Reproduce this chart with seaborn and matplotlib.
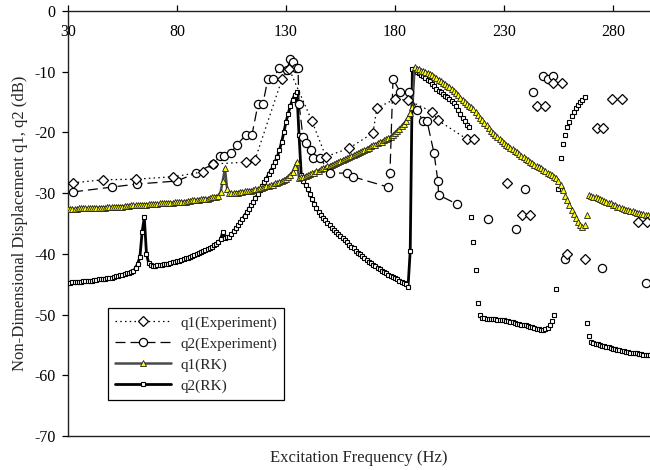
import numpy as np
import pandas as pd
import matplotlib
matplotlib.use("Agg")
import matplotlib.pyplot as plt
import seaborn as sns
from matplotlib.lines import Line2D

# ---------------- data ----------------
q1_exp_hz = [32.3, 46.1, 61.2, 78.2, 91.9, 96.5, 111.7, 115.8, 128.2, 131.4,
             141.9, 148.3, 158.9, 169.9, 171.7, 180.0, 186.0, 197.0, 199.7, 213.0,
             216.2, 231.4, 238.3, 241.9, 245.1, 248.8, 252.5, 256.6, 258.9, 267.2,
             272.7, 275.4, 279.5, 284.1, 291.5, 295.6]
q1_exp_db = [-28.3, -27.8, -27.7, -27.3, -26.5, -25.2, -24.9, -24.5, -11.2, -9.5,
             -18.1, -24.0, -22.6, -20.1, -16.0, -14.5, -14.7, -16.6, -18.0, -21.1,
             -21.1, -28.3, -33.6, -33.6, -15.7, -15.7, -11.9, -11.9, -40.0, -40.9,
             -19.3, -19.3, -14.5, -14.5, -34.8, -34.8]

q2_exp_hz = [32.3, 50.2, 61.7, 80.0, 88.7, 96.5, 99.7, 101.6, 104.8, 107.5,
             111.7, 114.4, 117.2, 119.4, 121.7, 124.0, 126.8, 130.5, 131.8, 133.2,
             134.6, 135.5, 136.0, 137.8, 139.2, 141.5, 142.4, 145.6, 150.2, 158.0,
             160.7, 176.8, 177.7, 179.1, 182.3, 186.4, 190.1, 192.8, 194.7, 197.9,
             199.7, 200.0, 208.4, 222.7, 235.5, 239.6, 243.3, 247.9, 250.2, 252.5,
             258.0, 275.0, 295.1]
q2_exp_db = [-29.8, -29.0, -28.5, -28.0, -26.7, -25.2, -23.9, -23.9, -23.4, -22.0,
             -20.4, -20.4, -15.3, -15.3, -11.2, -11.2, -9.4, -9.7, -7.9, -8.4,
             -9.4, -9.4, -15.3, -20.8, -21.7, -22.9, -24.2, -24.2, -26.7, -26.7,
             -27.3, -29.0, -26.7, -11.2, -13.3, -13.3, -16.3, -18.1, -18.1, -23.4,
             -28.0, -30.3, -31.8, -34.3, -35.9, -29.3, -13.3, -10.7, -11.2, -10.7,
             -40.9, -42.3, -44.8]

rk_hz = list(range(30, 298))
q1_rk_db = [
    -32.6, -32.6, -32.6, -32.6, -32.6, -32.5, -32.5, -32.5, -32.5, -32.5,
    -32.5, -32.5, -32.4, -32.4, -32.4, -32.4, -32.4, -32.4, -32.3, -32.3,
    -32.3, -32.3, -32.3, -32.2, -32.2, -32.2, -32.1, -32.1, -32.1, -32.0,
    -32.0, -32.0, -32.0, -31.9, -31.9, -31.9, -31.9, -31.8, -31.8, -31.8,
    -31.8, -31.8, -31.7, -31.7, -31.7, -31.6, -31.6, -31.6, -31.6, -31.5,
    -31.5, -31.5, -31.4, -31.4, -31.4, -31.3, -31.3, -31.2, -31.2, -31.1,
    -31.1, -31.0, -31.0, -30.9, -30.9, -30.8, -30.7, -30.7, -30.6, -30.5,
    -29.8, -28.0, -25.9, -29.3, -30.0, -30.0, -30.0, -29.9, -29.9, -29.8,
    -29.8, -29.7, -29.7, -29.6, -29.6, -29.5, -29.4, -29.3, -29.2, -29.1,
    -29.0, -28.9, -28.8, -28.7, -28.6, -28.4, -28.3, -28.2, -28.0, -27.8,
    -27.6, -27.3, -27.0, -26.5, -25.7, -24.9, -27.5, -27.4, -27.3, -27.1,
    -27.0, -26.9, -26.7, -26.6, -26.4, -26.3, -26.1, -25.9, -25.8, -25.6,
    -25.5, -25.3, -25.2, -25.0, -24.8, -24.7, -24.5, -24.4, -24.2, -24.1,
    -23.9, -23.7, -23.6, -23.4, -23.2, -23.0, -22.9, -22.7, -22.5, -22.3,
    -22.1, -22.0, -21.8, -21.6, -21.5, -21.3, -21.1, -20.9, -20.7, -20.4,
    -20.1, -19.8, -19.4, -19.0, -18.6, -18.1, -17.5, -16.8, -15.8, -9.3,
    -9.5, -9.6, -9.8, -9.9, -10.1, -10.2, -10.3, -10.5, -10.8, -11.0,
    -11.3, -11.5, -11.8, -12.0, -12.3, -12.5, -12.8, -13.2, -13.5, -13.9,
    -14.3, -14.6, -15.0, -15.3, -15.6, -15.8, -16.2, -16.6, -17.1, -17.6,
    -18.0, -18.4, -18.8, -19.3, -19.7, -20.1, -20.4, -20.7, -21.1, -21.4,
    -21.8, -22.1, -22.3, -22.6, -22.8, -23.1, -23.3, -23.5, -23.8, -24.0,
    -24.3, -24.5, -24.8, -25.0, -25.3, -25.5, -25.7, -25.9, -26.2, -26.4,
    -26.6, -26.8, -27.0, -27.3, -27.5, -28.0, -28.6, -29.5, -30.5, -31.2,
    -32.0, -32.8, -33.5, -34.1, -34.7, -35.2, -35.6, -35.3, -33.6, -30.3,
    -30.4, -30.6, -30.7, -30.8, -31.0, -31.1, -31.3, -31.4, -31.6, -31.7,
    -31.9, -32.0, -32.2, -32.3, -32.5, -32.6, -32.7, -32.8, -32.9, -33.0,
    -33.1, -33.2, -33.3, -33.4, -33.5, -33.6, -33.6, -33.7]
q2_rk_db = [
    -44.8, -44.8, -44.7, -44.7, -44.7, -44.6, -44.6, -44.5, -44.5, -44.5,
    -44.4, -44.4, -44.3, -44.3, -44.2, -44.2, -44.1, -44.1, -44.0, -44.0,
    -43.9, -43.8, -43.7, -43.6, -43.5, -43.4, -43.3, -43.2, -43.1, -43.0,
    -42.9, -42.3, -41.6, -40.5, -36.4, -34.0, -40.0, -41.5, -41.8, -42.0,
    -42.0, -41.9, -41.9, -41.8, -41.7, -41.7, -41.6, -41.5, -41.4, -41.3,
    -41.2, -41.1, -41.0, -40.9, -40.7, -40.6, -40.5, -40.3, -40.2, -40.0,
    -39.9, -39.7, -39.5, -39.4, -39.2, -39.0, -38.8, -38.6, -38.4, -38.1,
    -37.6, -36.4, -37.4, -37.3, -37.2, -36.8, -36.3, -35.8, -35.3, -34.7,
    -34.2, -33.7, -33.1, -32.6, -32.0, -31.4, -30.8, -30.2, -29.5, -28.9,
    -28.2, -27.6, -26.9, -26.3, -25.6, -24.8, -24.0, -22.9, -21.6, -20.0,
    -18.3, -16.9, -15.6, -14.6, -13.8, -13.3, -20.5, -27.0, -28.0, -28.7,
    -29.3, -30.2, -31.0, -31.8, -32.5, -33.1, -33.6, -34.1, -34.5, -34.9,
    -35.3, -35.7, -36.0, -36.4, -36.7, -37.0, -37.4, -37.8, -38.1, -38.5,
    -38.8, -39.1, -39.5, -39.8, -40.1, -40.4, -40.7, -41.0, -41.3, -41.5,
    -41.8, -42.0, -42.3, -42.5, -42.8, -43.0, -43.2, -43.4, -43.6, -43.8,
    -44.0, -44.2, -44.4, -44.6, -44.8, -45.0, -45.4, -39.5, -9.6, -9.8,
    -10.0, -10.2, -10.5, -10.7, -11.0, -11.3, -11.6, -12.0, -12.4, -12.8,
    -13.2, -13.4, -13.7, -14.0, -14.2, -14.5, -14.8, -15.2, -15.7, -16.3,
    -17.0, -17.6, -18.2, -18.7, -19.1, -33.9, -38.0, -42.7, -48.1, -50.0,
    -50.6, -50.6, -50.7, -50.7, -50.8, -50.8, -50.8, -50.9, -50.9, -50.9,
    -50.9, -51.0, -51.1, -51.2, -51.3, -51.4, -51.5, -51.6, -51.7, -51.8,
    -51.8, -51.9, -52.0, -52.1, -52.2, -52.3, -52.4, -52.5, -52.5, -52.4,
    -52.2, -51.8, -51.0, -50.0, -45.8, -29.3, -24.2, -21.9, -20.4, -19.1,
    -18.3, -17.3, -16.6, -16.0, -15.5, -15.0, -14.6, -14.2, -51.4, -53.5,
    -54.5, -54.7, -54.8, -54.9, -55.0, -55.1, -55.2, -55.3, -55.4, -55.5,
    -55.6, -55.7, -55.8, -55.9, -56.0, -56.0, -56.1, -56.2, -56.3, -56.3,
    -56.4, -56.4, -56.5, -56.5, -56.6, -56.6, -56.7, -56.7]

series_labels = ["q1(Experiment)", "q2(Experiment)", "q1(RK)", "q2(RK)"]
x_ticks = [30, 80, 130, 180, 230, 280]
x_tick_labels = ["30", "80", "130", "180", "230", "280"]
y_ticks = [0, -10, -20, -30, -40, -50, -60, -70]
y_tick_labels = ["0", "-10", "-20", "-30", "-40", "-50", "-60", "-70"]
x_title = "Excitation Frequency (Hz)"
y_title = "Non-Dimensional Displacement q1, q2 (dB)"
LINE_END_HZ = 214.5   # connecting lines stop here in the reference

# ---------------- style ----------------
sns.set_style("white")
plt.rcParams["font.family"] = ["Liberation Serif", "DejaVu Serif"]
plt.rcParams["axes.unicode_minus"] = False
FS_TICK = 11.5
FS_TITLE = 12
FS_LEG = 11

styles = {
    "q1(Experiment)": dict(line=dict(color="black", lw=0.9, linestyle=(0, (1.2, 2.6))),
                           mark=dict(marker="D", markersize=4.9, markerfacecolor="white",
                                     markeredgecolor="black", markeredgewidth=0.9)),
    "q2(Experiment)": dict(line=dict(color="black", lw=0.9, linestyle=(0, (8, 4))),
                           mark=dict(marker="o", markersize=5.9, markerfacecolor="white",
                                     markeredgecolor="black", markeredgewidth=0.9)),
    "q1(RK)": dict(line=dict(color="#4a4a4a", lw=1.8, linestyle="-"),
                   mark=dict(marker="^", markersize=4.8, markerfacecolor="#ffff00",
                             markeredgecolor="#202020", markeredgewidth=0.6)),
    "q2(RK)": dict(line=dict(color="black", lw=2.0, linestyle="-"),
                   mark=dict(marker="s", markersize=3.4, markerfacecolor="white",
                             markeredgecolor="black", markeredgewidth=0.8)),
}

fig = plt.figure(figsize=(6.5, 4.7), dpi=100)
ax = fig.add_axes([68 / 650, 34 / 470, 582 / 650, 425 / 470])

data = {
    "q1(Experiment)": (q1_exp_hz, q1_exp_db),
    "q2(Experiment)": (q2_exp_hz, q2_exp_db),
    "q1(RK)": (rk_hz, q1_rk_db),
    "q2(RK)": (rk_hz, q2_rk_db),
}
draw_order = ["q2(RK)", "q1(RK)", "q2(Experiment)", "q1(Experiment)"]
for z, name in enumerate(draw_order):
    hz, db = data[name]
    df = pd.DataFrame({"hz": hz, "db": db})
    st = styles[name]
    lined = df[df["hz"] <= LINE_END_HZ]
    sns.lineplot(data=lined, x="hz", y="db", estimator=None, sort=False, ax=ax,
                 color=st["line"]["color"], linewidth=st["line"]["lw"],
                 linestyle=st["line"]["linestyle"], zorder=2 + 2 * z)
    sns.lineplot(data=df, x="hz", y="db", estimator=None, sort=False, ax=ax,
                 color=st["line"]["color"], linestyle="none", zorder=3 + 2 * z,
                 **st["mark"])

ax.set_xlim(30, 297)
ax.set_ylim(-70, 0)
ax.set_xticks(x_ticks)
ax.set_xticklabels(x_tick_labels, fontsize=FS_TICK)
ax.set_yticks(y_ticks)
ax.set_yticklabels(y_tick_labels, fontsize=FS_TICK)
ax.xaxis.set_ticks_position("top")
ax.tick_params(axis="x", which="both", direction="out", length=4, width=0.9,
               top=True, bottom=False, labeltop=True, labelbottom=False, pad=-25,
               colors="black")
ax.tick_params(axis="y", direction="out", length=4, width=0.9, left=True, pad=5,
               colors="black")
ax.xaxis.set_label_position("bottom")
ax.set_xlabel(x_title, fontsize=FS_TITLE, labelpad=10)
ax.set_ylabel(y_title, fontsize=FS_TITLE, labelpad=4.5)

for side in ["top", "bottom", "left"]:
    ax.spines[side].set_visible(True)
    ax.spines[side].set_color("#202020")
    ax.spines[side].set_linewidth(1.0)
ax.spines["right"].set_visible(False)
ax.grid(False)

handles = []
for name in series_labels:
    st = styles[name]
    handles.append(Line2D([], [], color=st["line"]["color"], lw=st["line"]["lw"],
                          linestyle=st["line"]["linestyle"], **st["mark"]))
leg = ax.legend(handles, series_labels, loc="lower left",
                bbox_to_anchor=((108 - 68) / 582, (436 - 400) / 425),
                borderaxespad=0, frameon=True, fancybox=False, shadow=False,
                edgecolor="black", framealpha=1, fontsize=FS_LEG,
                handlelength=3.7, handletextpad=0.6, labelspacing=0.38,
                handleheight=1.0, borderpad=0.45)
leg.get_frame().set_linewidth(0.9)

fig.savefig("out.png", dpi=100)
